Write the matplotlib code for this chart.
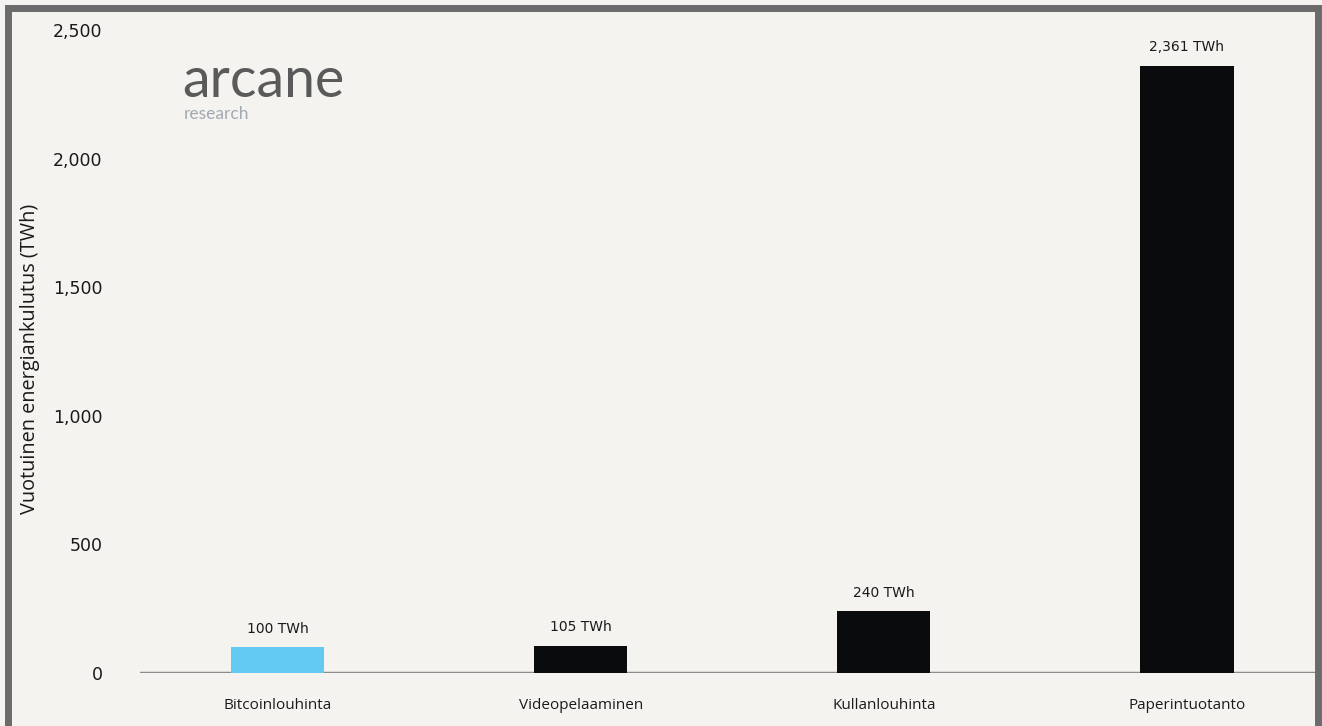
import matplotlib.pyplot as plt
from matplotlib.patches import Rectangle

# Data
categories = ['Bitcoinlouhinta', 'Videopelaaminen', 'Kullanlouhinta', 'Paperintuotanto']
values = [100, 105, 240, 2361]
bar_colors = ['#62c9f2', '#0a0b0d', '#0a0b0d', '#0a0b0d']
y_ticks = [0, 500, 1000, 1500, 2000, 2500]

W, H = 1322, 726
bg = '#f4f3f0'
fig = plt.figure(figsize=(W / 100, H / 100), dpi=100, facecolor=bg)

# axes placement in pixels
left_px, right_px, top_px, bot_px = 140, 1317, 30, 673
ax = fig.add_axes([left_px / W, 1 - bot_px / H, (right_px - left_px) / W, (bot_px - top_px) / H])
ax.set_facecolor(bg)

x = range(len(categories))
ax.bar(x, values, width=0.307, color=bar_colors, zorder=3)
ax.axhline(0, color='#8c8c8c', linewidth=2.5, zorder=2)

for xi, v in zip(x, values):
    ax.text(xi, v + 45, f'{v:,} TWh', ha='center', va='bottom',
            fontsize=10, family='DejaVu Sans', color='#1a1a1a')

ax.set_xlim(-0.455, 3.429)
ax.set_ylim(0, 2500)
ax.set_yticks(y_ticks)
ax.set_yticklabels([f'{t:,}' for t in y_ticks], fontsize=12.5, family='DejaVu Sans', color='#1a1a1a')
ax.set_xticks(list(x))
ax.set_xticklabels(categories, fontsize=11, family='Open Sans', color='#1a1a1a')
ax.tick_params(axis='y', length=0, pad=27)
ax.tick_params(axis='x', length=0, pad=18)
for s in ax.spines.values():
    s.set_visible(False)

fig.text(30 / W, 1 - 359 / H, 'Vuotuinen energiankulutus (TWh)', rotation=90,
         ha='center', va='center', fontsize=14.3, family='Open Sans', color='#1a1a1a')

# logo
fig.text(182 / W, 1 - 97 / H, 'arcane', ha='left', va='baseline', fontsize=40,
         family='Lato', color='#5a5a5a')
fig.text(184 / W, 1 - 119 / H, 'research', ha='left', va='baseline', fontsize=12.5,
         family='Lato', color='#a3a9b1')

# grey frame
fig.patches.append(Rectangle((8 / W, -0.05), (1318 - 8) / W, 1 - 8 / H + 0.05,
                             transform=fig.transFigure, fill=False,
                             edgecolor='#6b6b6b', linewidth=5))

fig.savefig('out.png', dpi=100, facecolor=bg)
